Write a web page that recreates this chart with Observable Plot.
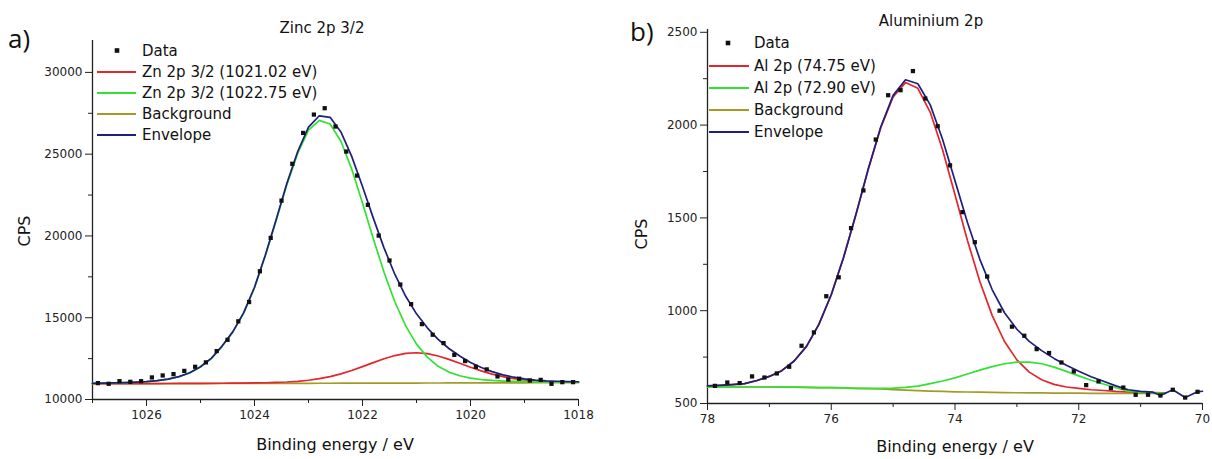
<!DOCTYPE html>
<html><head><meta charset="utf-8">
<script src="https://cdn.jsdelivr.net/npm/d3@7"></script>
<script src="https://cdn.jsdelivr.net/npm/@observablehq/plot@0.6"></script>
<style>
body{margin:0;background:#fff;}
#wrap{position:relative;width:1212px;height:459px;overflow:hidden;background:#fff;}
#wrap svg{position:absolute;top:0;}
</style></head><body><div id="wrap"></div>
<script>
// ---------- Panel a) Zinc 2p 3/2 ----------
const zincTitle = "Zinc 2p 3/2";
const zincLegend = ["Data", "Zn 2p 3/2 (1021.02 eV)", "Zn 2p 3/2 (1022.75 eV)", "Background", "Envelope"];
const zincXMajor = [1026, 1024, 1022, 1020, 1018];
const zincXMinor = [1027, 1025, 1023, 1021, 1019];
const zincYMajor = [10000, 15000, 20000, 25000, 30000];
const zincYMinor = [12500, 17500, 22500, 27500];
const zincE = [1026.9,1026.7,1026.5,1026.3,1026.1,1025.9,1025.7,1025.5,1025.3,1025.1,1024.9,1024.7,1024.5,1024.3,1024.1,1023.9,1023.7,1023.5,1023.3,1023.1,1022.9,1022.7,1022.5,1022.3,1022.1,1021.9,1021.7,1021.5,1021.3,1021.1,1020.9,1020.7,1020.5,1020.3,1020.1,1019.9,1019.7,1019.5,1019.3,1019.1,1018.9,1018.7,1018.5,1018.3,1018.1];
const zincCPS = [11000,10960,11120,11080,11120,11350,11470,11550,11750,12000,12270,12960,13650,14780,15960,17840,19880,22160,24410,26300,27420,27810,26690,25160,23690,21900,20020,18500,17030,15830,14610,13960,13450,12730,12350,12000,11840,11410,11220,11270,11160,11200,10960,11060,11060];
const zincFitE = [1027.0,1026.8,1026.6,1026.4,1026.2,1026.0,1025.8,1025.6,1025.4,1025.2,1025.0,1024.8,1024.6,1024.4,1024.2,1024.0,1023.8,1023.6,1023.4,1023.2,1023.0,1022.8,1022.6,1022.4,1022.2,1022.0,1021.8,1021.6,1021.4,1021.2,1021.0,1020.8,1020.6,1020.4,1020.2,1020.0,1019.8,1019.6,1019.4,1019.2,1019.0,1018.8,1018.6,1018.4,1018.2,1018.0];
const zincBg = [10960,10962,10963,10965,10966,10968,10969,10971,10972,10974,10976,10977,10979,10980,10982,10983,10985,10986,10988,10990,10991,10993,10994,10996,10997,10999,11000,11002,11004,11005,11007,11008,11010,11011,11013,11014,11016,11017,11019,11021,11022,11024,11025,11027,11028,11030];
const zincRed = [10962,10964,10966,10968,10970,10973,10975,10978,10980,10983,10987,10990,10995,11000,11007,11014,11025,11042,11070,11114,11178,11273,11401,11569,11773,12008,12254,12490,12687,12816,12857,12800,12659,12454,12218,11974,11749,11554,11397,11279,11194,11138,11101,11080,11066,11059];
const zincGreen = [10990,11002,11015,11033,11056,11093,11149,11241,11392,11624,11994,12505,13251,14130,15282,16833,18785,20936,23138,25040,26466,27067,26844,25788,24087,22015,19835,17769,15962,14500,13388,12592,12028,11676,11452,11304,11221,11165,11129,11105,11088,11076,11068,11064,11059,11057];
const zincEnv = [10992,11004,11018,11036,11060,11098,11155,11248,11400,11633,12005,12518,13267,14150,15307,16864,18825,20992,23220,25164,26653,27347,27251,26361,24863,23024,21089,19257,17645,16311,15238,14384,13677,13119,12657,12264,11954,11702,11507,11363,11260,11190,11144,11117,11097,11086];

// ---------- Panel b) Aluminium 2p ----------
const alTitle = "Aluminium 2p";
const alLegend = ["Data", "Al 2p (74.75 eV)", "Al 2p (72.90 eV)", "Background", "Envelope"];
const alXMajor = [78, 76, 74, 72, 70];
const alXMinor = [77, 75, 73, 71];
const alYMajor = [500, 1000, 1500, 2000, 2500];
const alYMinor = [750, 1250, 1750, 2250];
const alE = [77.88,77.68,77.48,77.28,77.08,76.88,76.68,76.48,76.28,76.08,75.88,75.68,75.48,75.28,75.08,74.88,74.68,74.48,74.28,74.08,73.88,73.68,73.48,73.28,73.08,72.88,72.68,72.48,72.28,72.08,71.88,71.68,71.48,71.28,71.08,70.88,70.68,70.48,70.28,70.08];
const alCPS = [595,613,610,646,640,662,698,811,883,1078,1180,1445,1648,1922,2161,2188,2291,2143,1994,1783,1531,1369,1184,1000,914,865,793,772,721,673,599,619,583,586,547,547,543,574,532,563];
const alFitE = [78.0,77.8,77.6,77.4,77.2,77.0,76.8,76.6,76.4,76.2,76.0,75.8,75.6,75.4,75.2,75.0,74.8,74.6,74.4,74.2,74.0,73.8,73.6,73.4,73.2,73.0,72.8,72.6,72.4,72.2,72.0,71.8,71.6,71.4,71.2,71.0,70.8,70.6];
const alBg = [590,590,590,589,589,589,588,588,587,586,585,584,582,580,578,575,572,569,567,565,563,562,561,560,559,558,557,557,556,556,556,555,555,555,555,555,555,555];
const alRed = [595,598,602,607,624,646,677,729,808,926,1086,1288,1520,1764,1986,2152,2229,2198,2069,1866,1625,1380,1159,975,834,735,669,628,603,589,581,574,570,565,562,560,559,558];
const alGreen = [590,590,590,589,589,589,588,588,587,586,585,584,582,582,582,583,587,594,607,621,638,659,680,699,714,723,723,714,696,673,649,625,605,585,567,560,557,555];
const alEnvE = [78.0,77.8,77.6,77.4,77.2,77.0,76.8,76.6,76.4,76.2,76.0,75.8,75.6,75.4,75.2,75.0,74.8,74.6,74.4,74.2,74.0,73.8,73.6,73.4,73.2,73.0,72.8,72.6,72.4,72.2,72.0,71.8,71.6,71.4,71.2,71.0,70.8,70.68,70.48,70.28,70.08,70.0];
const alEnv = [595,598,602,607,624,646,677,729,808,926,1086,1288,1520,1766,1990,2160,2244,2223,2109,1922,1700,1477,1278,1114,989,900,835,785,743,706,674,644,620,595,574,565,561,543,574,532,563,566];

const RED = "#e3262b", GREEN = "#33e133", OLIVE = "#a39b25", NAVY = "#1f1f7c", INK = "#222";
const FONT = "'DejaVu Sans', 'Liberation Sans', sans-serif";

function panel(o) {
  const svg = Plot.plot({
    width: o.width, height: 459,
    marginLeft: o.ml, marginRight: o.mr, marginTop: o.mt, marginBottom: o.mb,
    style: {fontFamily: FONT, fontSize: "12px", color: INK, background: "transparent", overflow: "visible"},
    x: {domain: o.xDomain},
    y: {domain: o.yDomain},
    marks: [
      Plot.axisY({ticks: o.yMajor, tickSize: 7, tickPadding: 3, tickFormat: d3.format("d"), label: null, fontSize: 12}),
      Plot.axisY({ticks: o.yMinor, tickSize: 4, tickFormat: () => "", label: null}),
      Plot.axisX({ticks: o.xMajor, tickSize: 7, tickPadding: 4, tickFormat: d3.format("d"), label: null, fontSize: 12}),
      Plot.axisX({ticks: o.xMinor, tickSize: 4, tickFormat: () => "", label: null}),
      Plot.ruleX([o.xDomain[0]], {stroke: INK, strokeWidth: 1.3}),
      Plot.ruleY([o.yDomain[0]], {stroke: INK, strokeWidth: 1.3}),
      Plot.line(o.bg, {x: o.fitE, y: o.bg, stroke: OLIVE, strokeWidth: 1.7}),
      Plot.line(o.red, {x: o.fitE, y: o.red, stroke: RED, strokeWidth: 1.7}),
      Plot.line(o.green, {x: o.fitE, y: o.green, stroke: GREEN, strokeWidth: 1.7}),
      Plot.line(o.env, {x: o.envE, y: o.env, stroke: NAVY, strokeWidth: 1.7}),
      Plot.dot(o.cps, {x: o.dataE, y: o.cps, symbol: "square", r: 2.4, fill: "#111", stroke: "none"})
    ]
  });
  svg.style.left = o.left + "px";
  const g = d3.select(svg).append("g").attr("font-family", FONT).attr("fill", "#111").attr("text-anchor", "start");
  // panel letter
  g.append("text").attr("x", o.letter[0]).attr("y", o.letter[1]).attr("text-anchor", "start")
    .attr("font-family", "'Open Sans', sans-serif").attr("font-size", 26).text(o.letterText);
  // title
  g.append("text").attr("x", o.title[0]).attr("y", o.title[1]).attr("text-anchor", "middle")
    .attr("font-size", 15).text(o.titleText);
  // axis titles
  g.append("text").attr("x", o.xlab[0]).attr("y", o.xlab[1]).attr("text-anchor", "middle")
    .attr("font-size", 16).text("Binding energy / eV");
  g.append("text").attr("transform", `translate(${o.ylab[0]},${o.ylab[1]}) rotate(-90)`)
    .attr("text-anchor", "middle").attr("dy", "0.36em").attr("font-size", 16).text("CPS");
  // legend
  const L = o.legend;
  const colors = ["#111", RED, GREEN, OLIVE, NAVY];
  g.append("rect").attr("x", L.mx - 2.3).attr("y", L.rows[0] - 2.3).attr("width", 4.6).attr("height", 4.6).attr("fill", "#111");
  L.labels.forEach((lab, k) => {
    if (k > 0) g.append("line").attr("x1", L.lx1).attr("x2", L.lx2).attr("y1", L.rows[k]).attr("y2", L.rows[k])
      .attr("stroke", colors[k]).attr("stroke-width", 1.8);
    g.append("text").attr("x", L.tx).attr("y", L.rows[k]).attr("dy", "0.36em").attr("text-anchor", "start")
      .attr("font-size", 15).text(lab);
  });
  document.getElementById("wrap").appendChild(svg);
}

panel({
  left: 0, width: 606, ml: 92, mr: 28, mt: 40, mb: 60,
  xDomain: [1027, 1018], yDomain: [10000, 31950],
  xMajor: zincXMajor, xMinor: zincXMinor, yMajor: zincYMajor, yMinor: zincYMinor,
  fitE: zincFitE, bg: zincBg, red: zincRed, green: zincGreen, envE: zincFitE, env: zincEnv,
  dataE: zincE, cps: zincCPS,
  letterText: "a)", letter: [8, 48], titleText: zincTitle, title: [322, 33],
  xlab: [335, 450], ylab: [24, 231],
  legend: {labels: zincLegend, rows: [50.5, 72, 93, 114, 135], mx: 117, lx1: 97, lx2: 136, tx: 142}
});
panel({
  left: 606, width: 606, ml: 101, mr: 10, mt: 29, mb: 56,
  xDomain: [78, 70], yDomain: [500, 2515],
  xMajor: alXMajor, xMinor: alXMinor, yMajor: alYMajor, yMinor: alYMinor,
  fitE: alFitE, bg: alBg, red: alRed, green: alGreen, envE: alEnvE, env: alEnv,
  dataE: alE, cps: alCPS,
  letterText: "b)", letter: [24, 41], titleText: alTitle, title: [325, 26],
  xlab: [349, 452], ylab: [35, 234],
  legend: {labels: alLegend, rows: [43, 66, 88, 110, 132], mx: 122, lx1: 103, lx2: 143, tx: 148}
});
</script></body></html>
